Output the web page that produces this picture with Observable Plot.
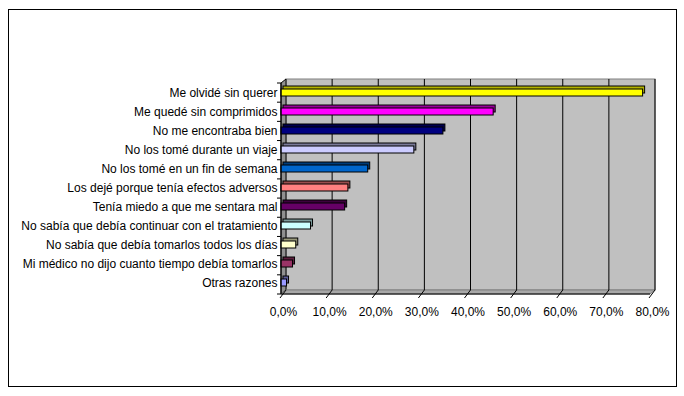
<!DOCTYPE html>
<html>
<head>
<meta charset="utf-8">
<script src="https://cdn.jsdelivr.net/npm/d3@7"></script>
<script src="https://cdn.jsdelivr.net/npm/@observablehq/plot@0.6"></script>
<style>
  html, body { margin: 0; padding: 0; background: #fff; }
  #wrap { position: relative; width: 684px; height: 396px; }
  #border { position: absolute; left: 8px; top: 9px; width: 667px; height: 376px; border: 1px solid #000; pointer-events: none; }
  #chart { position: absolute; left: 0; top: 0; }
</style>
</head>
<body>
<div id="wrap"><div id="chart"></div><div id="border"></div></div>
<script>
const categories = [
  "Me olvidé sin querer",
  "Me quedé sin comprimidos",
  "No me encontraba bien",
  "No los tomé durante un viaje",
  "No los tomé en un fin de semana",
  "Los dejé porque tenía efectos adversos",
  "Tenía miedo a que me sentara mal",
  "No sabía que debía continuar con el tratamiento",
  "No sabía que debía tomarlos todos los días",
  "Mi médico no dijo cuanto tiempo debía tomarlos",
  "Otras razones"
];
const values = [78.4, 46.0, 35.1, 28.8, 18.8, 14.5, 13.8, 6.4, 3.2, 2.5, 1.2];
const colors = ["#FFFF00", "#FF00FF", "#000080", "#CCCCFF", "#0066CC", "#FF8080", "#660066", "#CCFFFF", "#FFFFCC", "#993366", "#9999FF"];
const sideColors = ["#B3B300", "#990099", "#00004D", "#7A7A99", "#003D7A", "#994D4D", "#3D003D", "#7A9999", "#99997A", "#5C1F3D", "#5C5C99"];
const xTicks = [0, 10, 20, 30, 40, 50, 60, 70, 80];

const data = categories.map((c, i) => ({cat: c, value: values[i], color: colors[i], side: sideColors[i]}));
const fmt = d => d.toFixed(1).replace(".", ",") + "%";

const DX = 5, DY = -4;

function walls(index, scales, values, dimensions) {
  const x = scales.x;
  const yTop = dimensions.marginTop, yBot = dimensions.height - dimensions.marginBottom;
  const x0 = x(0), x1 = x(xTicks[xTicks.length - 1]);
  const g = d3.create("svg:g");
  g.append("rect").attr("x", x0 + DX).attr("y", yTop + DY).attr("width", x1 - x0).attr("height", yBot - yTop)
    .attr("fill", "#C0C0C0").attr("stroke", "#808080");
  g.append("polygon").attr("points", [[x0, yTop], [x0 + DX, yTop + DY], [x0 + DX, yBot + DY], [x0, yBot]].join(" "))
    .attr("fill", "#909090").attr("stroke", "#000");
  g.append("polygon").attr("points", [[x0, yBot], [x0 + DX, yBot + DY], [x1 + DX, yBot + DY], [x1, yBot]].join(" "))
    .attr("fill", "#A8A8A8").attr("stroke", "#808080");
  for (const v of xTicks.slice(1)) {
    g.append("line").attr("x1", x(v) + DX).attr("x2", x(v) + DX).attr("y1", yTop + DY).attr("y2", yBot + DY)
      .attr("stroke", "#000");
  }
  return g.node();
}

function frontLines(index, scales, values, dimensions) {
  const x = scales.x;
  const yTop = dimensions.marginTop, yBot = dimensions.height - dimensions.marginBottom;
  const x0 = x(0), x1 = x(xTicks[xTicks.length - 1]);
  const g = d3.create("svg:g").attr("stroke", "#000");
  g.append("line").attr("x1", x0).attr("x2", x0).attr("y1", yTop).attr("y2", yBot);
  g.append("line").attr("x1", x0).attr("x2", x1).attr("y1", yBot).attr("y2", yBot);
  for (const v of xTicks) {
    g.append("line").attr("x1", x(v) + DX).attr("y1", yBot + DY).attr("x2", x(v) - 1).attr("y2", yBot + 4);
  }
  const step = (yBot - yTop) / categories.length;
  for (let k = 0; k <= categories.length; k++) {
    const yy = yTop + k * step;
    g.append("line").attr("x1", x0 - 4).attr("x2", x0).attr("y1", yy).attr("y2", yy);
  }
  return g.node();
}

const chart = Plot.plot({
  width: 684,
  height: 396,
  marginLeft: 281,
  marginRight: 34,
  marginTop: 83,
  marginBottom: 102,
  x: {domain: [0, 80]},
  y: {domain: categories, paddingInner: 0.635, paddingOuter: 0.3175},
  color: {type: "identity"},
  style: {fontFamily: "'Liberation Sans', Arial, sans-serif", fontSize: "12px", color: "#000", background: "transparent", overflow: "visible"},
  marks: [
    walls,
    Plot.barX(data, {y: "cat", x: "value", fill: "side", stroke: "#000", strokeWidth: 1, dx: 2, dy: -4}),
    Plot.barX(data, {y: "cat", x: "value", fill: "color", stroke: "#000", strokeWidth: 1, dy: -1}),
    frontLines,
    Plot.axisX({ticks: xTicks, tickFormat: fmt, tickSize: 0, tickPadding: 13, dx: 2, label: null, fontSize: 12}),
    Plot.axisY({tickSize: 0, tickPadding: 4, label: null, fontSize: 12, dy: -0.5})
  ]
});
document.getElementById("chart").appendChild(chart);
</script>
</body>
</html>
